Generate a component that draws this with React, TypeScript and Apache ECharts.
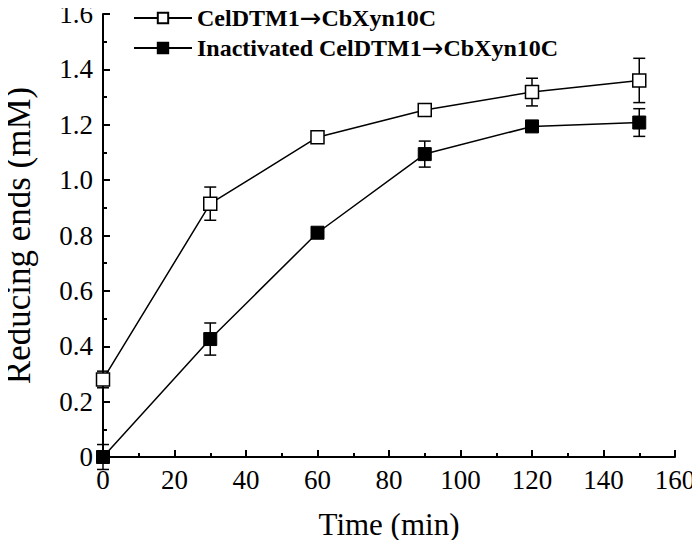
import React, { useEffect, useRef } from "react";
import * as echarts from "echarts";

const times = [0, 30, 60, 90, 120, 150];
const activeValues = [0.28, 0.915, 1.155, 1.253, 1.318, 1.36];
const activeErrors = [0.03, 0.06, 0.012, 0.012, 0.05, 0.08];
const inactiveValues = [0.0, 0.426, 0.81, 1.094, 1.194, 1.208];
const inactiveErrors = [0.045, 0.058, 0.012, 0.047, 0.012, 0.05];
const seriesNames = ["CelDTM1\u2192CbXyn10C", "Inactivated CelDTM1\u2192CbXyn10C"];

const FONT = "'Liberation Serif', 'Times New Roman', serif";

function errData(vals: number[], errs: number[]) {
  return times.map((t, i) => [t, vals[i] - errs[i], vals[i] + errs[i]]);
}

function errorRender(params: any, api: any) {
  const x = api.value(0);
  const lo = api.coord([x, api.value(1)]);
  const hi = api.coord([x, api.value(2)]);
  const w = 6;
  const style = { stroke: "#000", lineWidth: 1.5 };
  return {
    type: "group",
    children: [
      { type: "line", shape: { x1: lo[0], y1: lo[1], x2: hi[0], y2: hi[1] }, style },
      { type: "line", shape: { x1: lo[0] - w, y1: lo[1], x2: lo[0] + w, y2: lo[1] }, style },
      { type: "line", shape: { x1: hi[0] - w, y1: hi[1], x2: hi[0] + w, y2: hi[1] }, style },
    ],
  };
}

export default function App() {
  const ref = useRef<HTMLDivElement>(null);
  useEffect(() => {
    if (!ref.current) return;
    const chart = echarts.init(ref.current, null, { renderer: "svg" });
    chart.setOption({
      animation: false,
      backgroundColor: "#fff",
      grid: { left: 103, right: 25, top: 14, bottom: 91, outerBoundsMode: "none", containLabel: false },
      legend: {
        left: 128,
        top: 0,
        orient: "vertical",
        itemGap: 4,
        itemWidth: 58,
        itemHeight: 13,
        data: seriesNames,
        formatter: (name: string) => {
          const parts = name.split("\u2192");
          return parts[0] + "{a|\u2192}" + parts[1];
        },
        textStyle: {
          fontFamily: FONT,
          fontWeight: "bold",
          fontSize: 24,
          color: "#000",
          rich: {
            a: { fontFamily: "'DejaVu Sans'", fontWeight: "normal", fontSize: 26, color: "#000" },
          },
        },
      },
      xAxis: {
        type: "value",
        min: 0,
        max: 160,
        interval: 20,
        name: "Time (min)",
        nameLocation: "middle",
        nameGap: 52,
        nameTextStyle: { fontFamily: FONT, fontSize: 31, color: "#000" },
        axisLine: { lineStyle: { color: "#000", width: 2 } },
        axisTick: { inside: true, length: 7, lineStyle: { color: "#000", width: 2 } },
        minorTick: { show: true, splitNumber: 2, length: 4, lineStyle: { color: "#000", width: 2 } },
        axisLabel: { fontFamily: FONT, fontSize: 27, color: "#000", margin: 9 },
        splitLine: { show: false },
      },
      yAxis: {
        type: "value",
        min: 0,
        max: 1.6,
        interval: 0.2,
        name: "Reducing ends (mM)",
        nameLocation: "middle",
        nameGap: 67,
        nameTextStyle: { fontFamily: FONT, fontSize: 35, color: "#000" },
        axisLine: { show: true, lineStyle: { color: "#000", width: 2 } },
        axisTick: { inside: true, length: 7, lineStyle: { color: "#000", width: 2 } },
        minorTick: { show: true, splitNumber: 2, length: 4, lineStyle: { color: "#000", width: 2 } },
        axisLabel: {
          fontFamily: FONT,
          fontSize: 27,
          color: "#000",
          margin: 10,
          formatter: (v: number) => (v === 0 ? "0" : v.toFixed(1)),
        },
        splitLine: { show: false },
      },
      series: [
        {
          name: seriesNames[0],
          type: "line",
          data: times.map((t, i) => [t, activeValues[i]]),
          symbol: "rect",
          symbolSize: 13,
          lineStyle: { color: "#000", width: 1.5 },
          itemStyle: { color: "#fff", borderColor: "#000", borderWidth: 1.5 },
          z: 3,
        },
        {
          name: seriesNames[1],
          type: "line",
          data: times.map((t, i) => [t, inactiveValues[i]]),
          symbol: "rect",
          symbolSize: 13,
          lineStyle: { color: "#000", width: 1.5 },
          itemStyle: { color: "#000", borderColor: "#000", borderWidth: 1 },
          z: 3,
        },
        {
          type: "custom",
          renderItem: errorRender,
          data: errData(activeValues, activeErrors),
          encode: { x: 0, y: [1, 2] },
          z: 2,
          silent: true,
        },
        {
          type: "custom",
          renderItem: errorRender,
          data: errData(inactiveValues, inactiveErrors),
          encode: { x: 0, y: [1, 2] },
          z: 2,
          silent: true,
        },
      ],
    });
    return () => chart.dispose();
  }, []);
  return <div ref={ref} style={{ width: 700, height: 548, margin: -8 }} />;
}
